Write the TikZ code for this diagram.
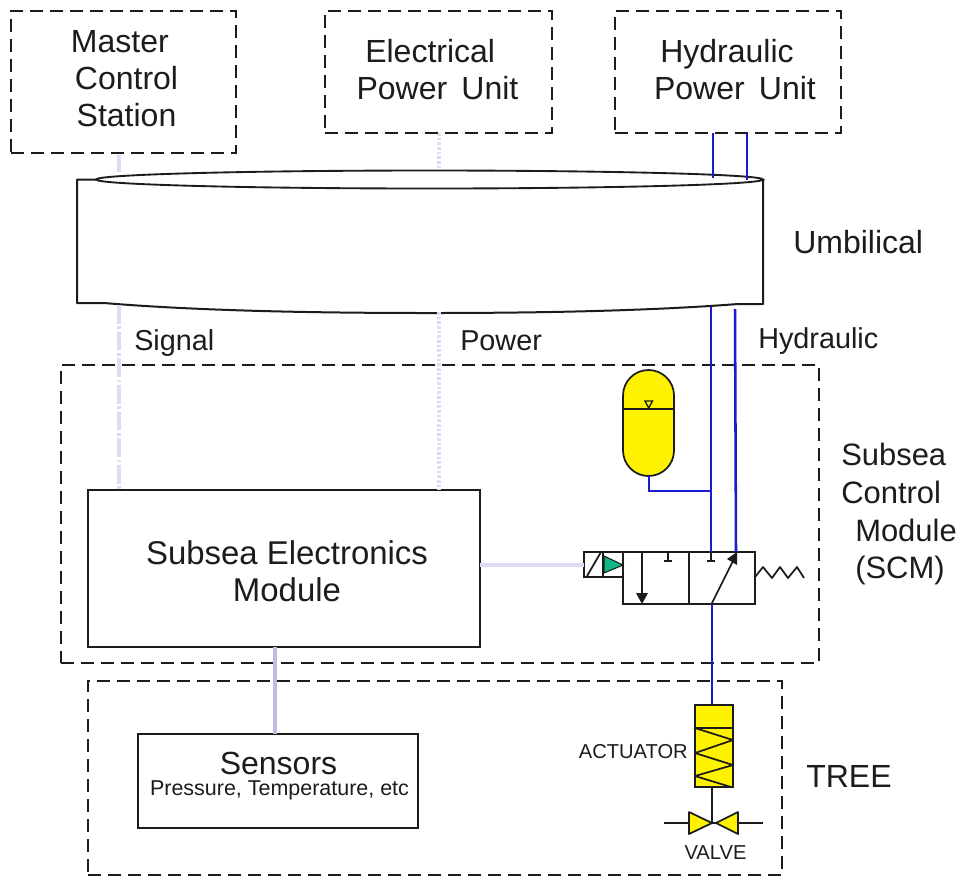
\documentclass[tikz,border=0pt]{standalone}
\usepackage{fontspec}
\setmainfont{Liberation Sans}
\usetikzlibrary{shapes.geometric,calc}
\definecolor{hyd}{HTML}{1A1AD0}
\definecolor{sigc}{HTML}{DCDCF4}
\definecolor{snsc}{HTML}{BDBDE4}
\definecolor{yel}{HTML}{FFF200}
\definecolor{grn}{HTML}{10B888}
\definecolor{ink}{HTML}{1C1C1C}
\tikzset{
  dashbox/.style={draw=ink,line width=1.6pt,dash pattern=on 9.5pt off 5.5pt,inner sep=0pt,outer sep=0pt,align=center,text=ink},
  solidbox/.style={draw=ink,line width=1.4pt,inner sep=0pt,outer sep=0pt,align=center,text=ink},
  big/.style={font=\fontsize{24}{27.7}\selectfont,text=ink,align=center,inner sep=0pt},
  semf/.style={font=\fontsize{24.7}{27.7}\selectfont,text=ink,align=center,inner sep=0pt},
  scmf/.style={font=\fontsize{23.2}{27.7}\selectfont,text=ink,inner sep=0pt,anchor=base west},
  mid/.style={font=\fontsize{21.6}{27}\selectfont,text=ink,inner sep=0pt,anchor=base west},
  tiny/.style={font=\fontsize{15.1}{17}\selectfont,text=ink,inner sep=0pt},
  hline/.style={draw=hyd,line width=1.9pt},
  sigline/.style={draw=sigc,line width=2.4pt,dash pattern=on 14pt off 2pt on 2pt off 2pt},
  powline/.style={draw=sigc,line width=2.4pt,dash pattern=on 2pt off 1.5pt},
  sym/.style={draw=ink,line width=1.3pt},
  thin/.style={draw=ink,line width=1.6pt}
}
\begin{document}
\begin{tikzpicture}[x=0.75pt,y=-0.75pt]
\useasboundingbox[fill=white] (0,0) rectangle (959,876);

% coordinates for connector ends
\coordinate (sigT) at (119,172);
\coordinate (sigB) at (119,305);
\coordinate (powT) at (439,176);
\coordinate (powB) at (439,312);
\coordinate (h1T) at (713,178);
\coordinate (h2T) at (747,180);
\coordinate (h1B) at (711,307);
\coordinate (h2B) at (735,309);

% light and blue lines under the shapes
\draw[sigline] (119,155) -- (sigT);
\draw[powline] (439,133) -- (powT);

% umbilical
\draw[ink,line width=1.5pt,fill=white,line join=round]
  (96,179.5) -- (77,179.5) -- (77,303) -- (104,303)
  .. controls (200,311) and (320,313) .. (430,313)
  .. controls (560,313) and (660,310) .. (738,304) -- (763,304) -- (763,179.5);
\node[ellipse,draw=ink,line width=1.4pt,minimum width=667*0.75pt,minimum height=18*0.75pt,inner sep=0pt,outer sep=0pt,fill=white] (umbtop) at (429.5,179.5) {};

% dashed boxes
\node[dashbox,minimum width=225*0.75pt,minimum height=142*0.75pt] (mcs) at (123.5,82) {};
\node[big] (mcst) at (126.5,79) {Master\hspace*{10pt}\\Control\\Station};
\node[dashbox,minimum width=227*0.75pt,minimum height=122*0.75pt] (epu) at (438.5,72) {};
\node[big] (eput) at (437.5,70) {Electrical\hspace*{11pt}\\Power\, Unit};
\node[dashbox,minimum width=226*0.75pt,minimum height=122*0.75pt] (hpu) at (728,72) {};
\node[big] (hput) at (735,70) {Hydraulic\hspace*{12pt}\\Power\, Unit};
\node[dashbox,minimum width=758*0.75pt,minimum height=298*0.75pt] (scm) at (440,514) {};
\node[dashbox,minimum width=694*0.75pt,minimum height=194*0.75pt] (tree) at (435,778) {};

% solid boxes
\node[solidbox,fill=white,minimum width=392*0.75pt,minimum height=157*0.75pt] (sem) at (284,568.5) {};
\node[semf] (semt) at (287,571.5) {Subsea Electronics\\Module};
\node[solidbox,fill=white,minimum width=280*0.75pt,minimum height=94*0.75pt] (sens) at (278,781) {};
\node[big] (senst) at (278.5,763) {Sensors};
\node[font=\fontsize{16.1}{18}\selectfont,text=ink,inner sep=0pt] (senss) at (279.5,790) {Pressure, Temperature, etc};

% accumulator
\draw[sym,fill=yel] (623,395.5) arc[start angle=180,end angle=360,radius=25.5] -- (674,450.5) arc[start angle=0,end angle=180,radius=25.5] -- cycle;
\coordinate (accB) at (649,476);
\draw[sym] (623,409) -- (674,409);
\draw[sym,line width=1pt] (645,401) -- (652.5,401) -- (648.7,408) -- cycle (648.7,408) -- (648.7,409);

% valve block
\node[solidbox,fill=white,minimum width=132*0.75pt,minimum height=52*0.75pt] (valveblk) at (689,578) {};
\draw[sym] (valveblk.north) -- (valveblk.south);
\node[solidbox,fill=white,minimum width=39*0.75pt,minimum height=25*0.75pt] (sol) at (603.5,564.5) {};
\draw[sym] (587,576) -- (601,552);
\draw[sym] (603,552) -- (603,577);
\draw[draw=ink,line width=.8pt,fill=grn] (604,556) -- (604,573) -- (623,565) -- cycle;
% internal arrows and stops
\draw[sym] (642,552) -- (642,594);
\fill[ink] (636,593) -- (648,593) -- (642,604) -- cycle;
\draw[sym] (668,552) -- (668,561) (664,561) -- (672,561);
\draw[sym] (711,552) -- (711,561) (707,561) -- (715,561);
\draw[sym] (712,603) -- (733,561);
\fill[ink] (737,552) -- (737,565) -- (727,559) -- cycle;
% spring
\draw[sym,line join=round] (755,577) -- (763,567) -- (772,578) -- (780,567) -- (788,578) -- (797,567) -- (804,578);

% hydraulic lines
\draw[hline] (713,133) -- (h1T);
\draw[hline] (747,133) -- (h2T);
\draw[hline] (h1B) -- (711,552);
\draw[hline] (h2B) -- (736,552);
\draw[hline] (accB) -- (649,491) -- (711,491);
\draw[hline] (712,604) -- (712,705);

% signal and power below umbilical
\draw[sigline] (sigB) -- (119,490);
\draw[powline] (powB) -- (439,490);
\draw[draw=sigc,line width=3pt] (480,565) -- (584,565);
\draw[draw=snsc,line width=3pt] (sem.south -| 275,0) -- (sens.north -| 275,0);

% actuator
\node[solidbox,fill=yel,minimum width=38*0.75pt,minimum height=82*0.75pt] (act) at (714,746) {};
\draw[sym] (695,728) -- (733,728);
\draw[sym,line join=round] (695,728) -- (733,740) -- (695,753) -- (733,765) -- (695,776) -- (731,787);
% valve
\coordinate (vc) at (712,823);
\draw[thin] (act.south -| vc) -- (vc);
\draw[thin] (664,823) -- (689,823) (738,823) -- (763,823);
\draw[sym,fill=yel,line join=round] (689,812) -- (689,834) -- (vc) -- cycle;
\draw[sym,fill=yel,line join=round] (738,812) -- (738,834) -- (716,823) -- cycle;
\draw[thin] (712,823) -- (716,823);

% labels
\node[big,anchor=west] (umbl) at (793,242) {Umbilical};
\node[mid] (sigl) at (134,350) {Signal};
\node[mid] (powl) at (460,350) {Power};
\node[mid] (hydl) at (758,348) {Hydraulic};
\node[scmf] (s1) at (841,465) {Subsea};
\node[scmf] (s2) at (841,503) {Control};
\node[scmf] (s3) at (855,541) {Module};
\node[scmf] (s4) at (855,578) {(SCM)};
\node[big,anchor=west] (treel) at (806,776) {TREE};
\node[tiny,anchor=east] (actl) at (688,752) {ACTUATOR};
\node[tiny] (vall) at (715.5,853) {VALVE};
\end{tikzpicture}
\end{document}
